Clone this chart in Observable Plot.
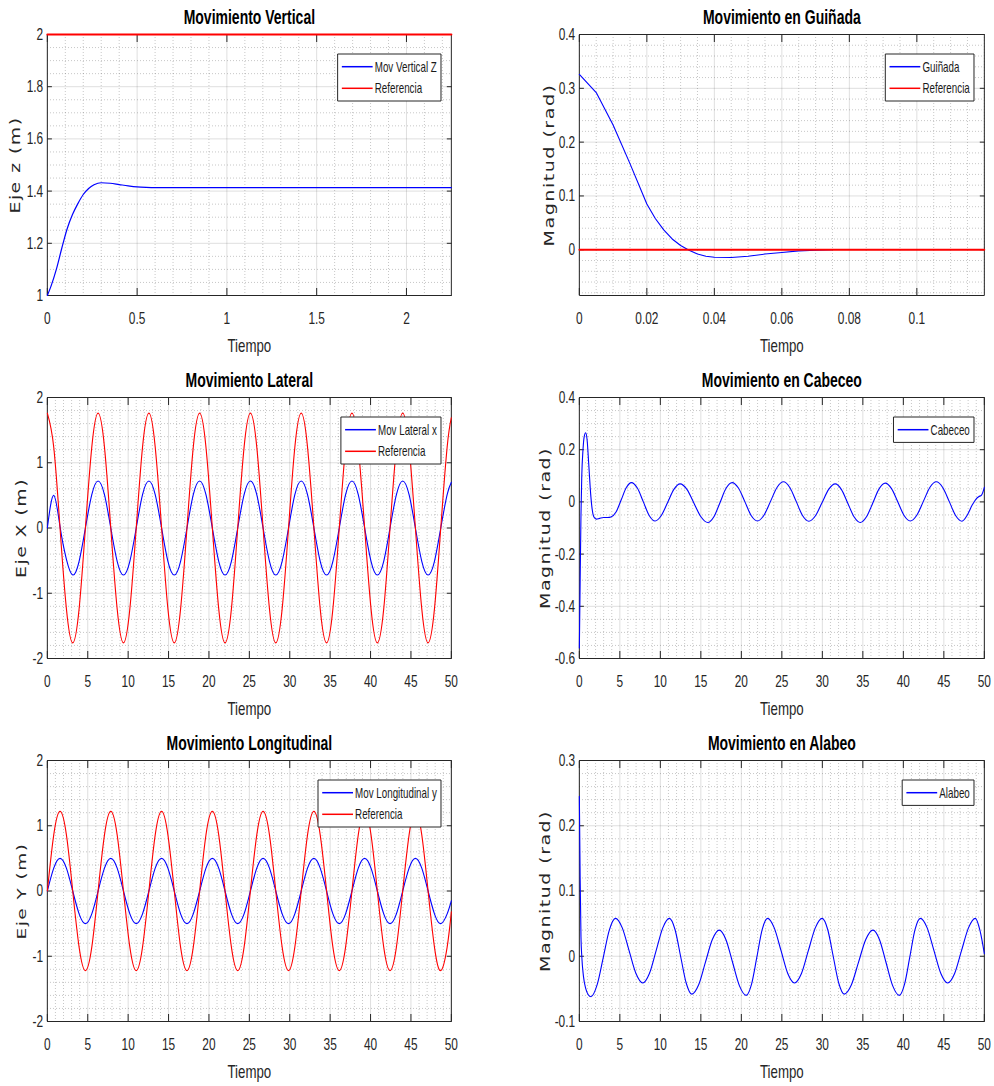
<!DOCTYPE html>
<html>
<head>
<meta charset="utf-8">
<script src="https://cdn.jsdelivr.net/npm/d3@7"></script>
<script src="https://cdn.jsdelivr.net/npm/@observablehq/plot@0.6"></script>
<style>
html, body { margin: 0; padding: 0; background: #fff; }
#fig { position: relative; width: 994px; height: 1086px; overflow: hidden; background: #fff; }
.panel { position: absolute; width: 497px; height: 362px; }
.panel svg { width: 497px !important; height: 362px !important; max-width: none !important; display: block; }
.panel svg path, .panel svg line, .panel svg rect { vector-effect: non-scaling-stroke; }
.ylab { position: absolute; white-space: nowrap; font-family: 'DejaVu Sans', sans-serif; font-size: 19px; letter-spacing: 1.5px; line-height: 1; color: #262626; transform: translate(-50%, -50%) rotate(-90deg) scaleY(0.7); }
</style>
</head>
<body>
<div id="fig"></div>
<script>
// ---------------- DATA ----------------
// Movimiento Vertical
const vertT = [0, 0.02, 0.05, 0.08, 0.11, 0.14, 0.17, 0.2, 0.23, 0.26, 0.3, 0.35, 0.4, 0.45, 0.5, 0.55, 0.6, 0.7, 1.0, 1.5, 2.25];
const vertZ = [1, 1.035, 1.1, 1.18, 1.255, 1.31, 1.352, 1.387, 1.41, 1.424, 1.432, 1.43, 1.425, 1.42, 1.416, 1.414, 1.413, 1.413, 1.413, 1.413, 1.413];
const vertRefT = [0, 2.25];
const vertRef = [2, 2];

// Movimiento en Guiñada
const yawT = [0, 0.005, 0.01, 0.015, 0.02, 0.0225, 0.025, 0.0275, 0.03, 0.0325, 0.035, 0.0375, 0.04, 0.045, 0.05, 0.055, 0.06, 0.065, 0.07, 0.075];
const yawV = [0.326, 0.292, 0.232, 0.16, 0.085, 0.058, 0.037, 0.02, 0.008, -0.001, -0.008, -0.012, -0.014, -0.0145, -0.012, -0.008, -0.005, -0.002, -0.001, 0];
const yawRefT = [0, 0.12];
const yawRef = [0, 0];

// Shared time samples for the lateral / longitudinal panels
const tOsc = [0, 0.79, 1.57, 2.36, 3.14, 3.93, 4.71, 5.50,
  6.28, 7.07, 7.85, 8.64, 9.42, 10.21, 11.00, 11.78,
  12.57, 13.35, 14.14, 14.92, 15.71, 16.49, 17.28, 18.06,
  18.85, 19.63, 20.42, 21.21, 21.99, 22.78, 23.56, 24.35,
  25.13, 25.92, 26.70, 27.49, 28.27, 29.06, 29.85, 30.63,
  31.42, 32.20, 32.99, 33.77, 34.56, 35.34, 36.13, 36.91,
  37.70, 38.48, 39.27, 40.06, 40.84, 41.63, 42.41, 43.20,
  43.98, 44.77, 45.55, 46.34, 47.12, 47.91, 48.69, 49.48, 50];

// Movimiento Lateral
const latRef = [1.76, 1.24, 0, -1.24, -1.76, -1.24, 0, 1.24,
  1.76, 1.24, 0, -1.24, -1.76, -1.24, 0, 1.24,
  1.76, 1.24, 0, -1.24, -1.76, -1.24, 0, 1.24,
  1.76, 1.24, 0, -1.24, -1.76, -1.24, 0, 1.24,
  1.76, 1.24, 0, -1.24, -1.76, -1.24, 0, 1.24,
  1.76, 1.24, 0, -1.24, -1.76, -1.24, 0, 1.24,
  1.76, 1.24, 0, -1.24, -1.76, -1.24, 0, 1.24,
  1.76, 1.24, 0, -1.24, -1.76, -1.24, 0, 1.24, 1.69];
const latX = [0, 0.50, 0.02, -0.48, -0.72, -0.51, 0, 0.51,
  0.72, 0.51, 0, -0.51, -0.72, -0.51, 0, 0.51,
  0.72, 0.51, 0, -0.51, -0.72, -0.51, 0, 0.51,
  0.72, 0.51, 0, -0.51, -0.72, -0.51, 0, 0.51,
  0.72, 0.51, 0, -0.51, -0.72, -0.51, 0, 0.51,
  0.72, 0.51, 0, -0.51, -0.72, -0.51, 0, 0.51,
  0.72, 0.51, 0, -0.51, -0.72, -0.51, 0, 0.51,
  0.72, 0.51, 0, -0.51, -0.72, -0.51, 0, 0.51, 0.70];

// Movimiento Longitudinal
const lonRef = [0, 0.86, 1.22, 0.86, 0, -0.86, -1.22, -0.86,
  0, 0.86, 1.22, 0.86, 0, -0.86, -1.22, -0.86,
  0, 0.86, 1.22, 0.86, 0, -0.86, -1.22, -0.86,
  0, 0.86, 1.22, 0.86, 0, -0.86, -1.22, -0.86,
  0, 0.86, 1.22, 0.86, 0, -0.86, -1.22, -0.86,
  0, 0.86, 1.22, 0.86, 0, -0.86, -1.22, -0.86,
  0, 0.86, 1.22, 0.86, 0, -0.86, -1.22, -0.86,
  0, 0.86, 1.22, 0.86, 0, -0.86, -1.22, -0.86, -0.32];
const lonY = [0, 0.35, 0.50, 0.35, 0, -0.35, -0.50, -0.35,
  0, 0.35, 0.50, 0.35, 0, -0.35, -0.50, -0.35,
  0, 0.35, 0.50, 0.35, 0, -0.35, -0.50, -0.35,
  0, 0.35, 0.50, 0.35, 0, -0.35, -0.50, -0.35,
  0, 0.35, 0.50, 0.35, 0, -0.35, -0.50, -0.35,
  0, 0.35, 0.50, 0.35, 0, -0.35, -0.50, -0.35,
  0, 0.35, 0.50, 0.35, 0, -0.35, -0.50, -0.35,
  0, 0.35, 0.50, 0.35, 0, -0.35, -0.50, -0.35, -0.15];

// Movimiento en Cabeceo
const cabT = [0, 0.1, 0.2, 0.3, 0.45, 0.6, 0.78, 0.95, 1.15, 1.35,
  1.55, 1.8, 2.1, 2.5, 3.0, 3.5, 3.9, 4.53, 5.17, 5.80,
  6.43, 7.16, 7.89, 8.62, 9.35, 10.12, 10.90, 11.67, 12.44, 13.30,
  14.15, 15.01, 15.86, 16.61, 17.36, 18.11, 18.86, 19.64, 20.43, 21.21,
  21.99, 22.79, 23.60, 24.40, 25.20, 25.98, 26.77, 27.55, 28.33, 29.15,
  29.96, 30.78, 31.59, 32.36, 33.14, 33.91, 34.68, 35.45, 36.23, 37.00,
  37.77, 38.54, 39.32, 40.09, 40.86, 41.66, 42.47, 43.27, 44.07, 44.86,
  45.66, 46.45, 47.24, 47.9, 48.5, 49.0, 49.3, 49.65, 50];
const cabV = [-0.56, -0.30, -0.05, 0.10, 0.20, 0.25, 0.265, 0.24, 0.15, 0.05,
  -0.02, -0.058, -0.066, -0.063, -0.060, -0.060, -0.058, -0.039, 0.008, 0.055,
  0.074, 0.053, 0.001, -0.052, -0.073, -0.052, -0.002, 0.048, 0.069, 0.047,
  -0.005, -0.057, -0.079, -0.057, -0.003, 0.052, 0.074, 0.053, 0.001, -0.052,
  -0.073, -0.051, 0.002, 0.055, 0.077, 0.055, 0.002, -0.052, -0.074, -0.053,
  -0.003, 0.048, 0.069, 0.047, -0.005, -0.057, -0.079, -0.057, -0.004, 0.050,
  0.072, 0.051, 0.000, -0.052, -0.073, -0.051, 0.002, 0.055, 0.077, 0.055,
  0.002, -0.052, -0.074, -0.050, -0.012, 0.012, 0.020, 0.026, 0.056];

// Movimiento en Alabeo
const alaT = [0, 0.1, 0.2, 0.3, 0.5, 0.8, 1.1, 1.44, 2.19, 2.95,
  3.70, 4.45, 5.30, 6.14, 6.99, 7.83, 8.65, 9.48, 10.30, 11.12,
  11.81, 12.50, 13.19, 13.88, 14.73, 15.57, 16.42, 17.26, 18.10, 18.93,
  19.77, 20.60, 21.26, 21.92, 22.57, 23.23, 24.06, 24.90, 25.73, 26.56,
  27.42, 28.27, 29.13, 29.98, 30.66, 31.34, 32.02, 32.70, 33.59, 34.47,
  35.36, 36.24, 37.06, 37.87, 38.69, 39.50, 40.15, 40.80, 41.44, 42.09,
  42.94, 43.78, 44.63, 45.47, 46.33, 47.18, 48.04, 48.89, 49.45, 50];
const alaV = [0.245, 0.12, 0.03, 0.0, -0.03, -0.05, -0.059, -0.062, -0.044, -0.002,
  0.040, 0.058, 0.0435, 0.0085, -0.0265, -0.041, -0.0265, 0.0085, 0.0435, 0.058,
  0.041, 0, -0.041, -0.058, -0.0436, -0.009, 0.0256, 0.040, 0.0254, -0.01,
  -0.0454, -0.060, -0.0427, -0.001, 0.0407, 0.058, 0.0435, 0.0085, -0.0265, -0.041,
  -0.0265, 0.0085, 0.0435, 0.058, 0.041, 0, -0.041, -0.058, -0.0436, -0.009,
  0.0256, 0.040, 0.0254, -0.01, -0.0454, -0.060, -0.0427, -0.001, 0.0407, 0.058,
  0.0435, 0.0085, -0.0265, -0.041, -0.0265, 0.0085, 0.0435, 0.058, 0.040, 0.004];

// Ticks
const ticksVertX = [0, 0.5, 1, 1.5, 2];
const ticksVertY = [1, 1.2, 1.4, 1.6, 1.8, 2];
const ticksYawX = [0, 0.02, 0.04, 0.06, 0.08, 0.1];
const ticksYawY = [0, 0.1, 0.2, 0.3, 0.4];
const ticks50 = [0, 5, 10, 15, 20, 25, 30, 35, 40, 45, 50];
const ticksPosY = [-2, -1, 0, 1, 2];
const ticksCabY = [-0.6, -0.4, -0.2, 0, 0.2, 0.4];
const ticksAlaY = [-0.1, 0, 0.1, 0.2, 0.3];

// Text
const titles = ["Movimiento Vertical", "Movimiento en Guiñada", "Movimiento Lateral", "Movimiento en Cabeceo", "Movimiento Longitudinal", "Movimiento en Alabeo"];
const yLabels = ["Eje z (m)", "Magnitud (rad)", "Eje X (m)", "Magnitud (rad)", "Eje Y (m)", "Magnitud (rad)"];
const xLabel = "Tiempo";

// ---------------- DRAWING ----------------
const fig = document.getElementById("fig");
const SX = 0.7, PW = 497, PH = 362, IW = PW / SX;
const FONT = "'Liberation Sans', Arial, Helvetica, sans-serif";
const AX = "#262626";
const BLUE = "#0000ff", RED = "#ff0000";

function minorTicks(domain, step, major) {
  const out = [];
  const k0 = Math.ceil(domain[0] / step - 1e-9), k1 = Math.floor(domain[1] / step + 1e-9);
  for (let k = k0; k <= k1; k++) {
    const v = +(k * step).toFixed(10);
    if (!major.some(m => Math.abs(m - v) < step * 1e-3)) out.push(v);
  }
  return out;
}

function drawPanel(cfg) {
  const fl = cfg.col === 0 ? 47 : 82;
  const fr = cfg.col === 0 ? 451 : 487;
  const mL = fl / SX, mR = (PW - fr) / SX, mT = 34, mB = 67;
  const fmt = d => String(d);
  const marks = [
    Plot.gridX(minorTicks(cfg.xDomain, cfg.xMinor, cfg.xTicks), {stroke: AX, strokeOpacity: 0.26, strokeDasharray: "1,2"}),
    Plot.gridY(minorTicks(cfg.yDomain, cfg.yMinor, cfg.yTicks), {stroke: AX, strokeOpacity: 0.26, strokeDasharray: "1,2"}),
    Plot.gridX(cfg.xTicks, {stroke: AX, strokeOpacity: 0.15}),
    Plot.gridY(cfg.yTicks, {stroke: AX, strokeOpacity: 0.15}),
    Plot.frame({stroke: AX, strokeWidth: 1}),
    Plot.axisX(cfg.xTicks, {anchor: "bottom", tickSize: -7, fill: "none", stroke: AX, label: null}),
    Plot.axisX(cfg.xTicks, {anchor: "top", tickSize: -7, fill: "none", stroke: AX, label: null}),
    Plot.axisY(cfg.yTicks, {anchor: "left", tickSize: -7, fill: "none", stroke: AX, label: null}),
    Plot.axisY(cfg.yTicks, {anchor: "right", tickSize: -7, fill: "none", stroke: AX, label: null}),
    ...cfg.series.map(s => Plot.line(s.t.map((t, i) => ({t, v: s.v[i]})), {
      x: "t", y: "v", stroke: s.color, strokeWidth: s.width, curve: s.curve || "linear"
    })),
    Plot.axisX(cfg.xTicks, {anchor: "bottom", tickSize: 0, tickPadding: 16, label: null, tickFormat: fmt, fontSize: 17, fill: AX}),
    Plot.axisY(cfg.yTicks, {anchor: "left", tickSize: 0, tickPadding: 6, label: null, tickFormat: fmt, fontSize: 17, fill: AX}),
    Plot.text([cfg.title], {text: d => d, frameAnchor: "top", dy: -11, lineAnchor: "bottom", fontWeight: "bold", fontSize: 20, fill: "#000"}),
    Plot.text([xLabel], {text: d => d, frameAnchor: "bottom", dy: 56, lineAnchor: "bottom", fontSize: 19, fill: AX})
  ];
  const chart = Plot.plot({
    width: IW, height: PH,
    marginLeft: mL, marginRight: mR, marginTop: mT, marginBottom: mB,
    x: {domain: cfg.xDomain},
    y: {domain: cfg.yDomain},
    style: {fontFamily: FONT, fontSize: "17px", background: "white", overflow: "visible", color: AX},
    marks
  });
  chart.setAttribute("width", PW);
  chart.setAttribute("height", PH);
  chart.setAttribute("viewBox", `0 0 ${IW} ${PH}`);
  chart.setAttribute("preserveAspectRatio", "none");
  const div = document.createElement("div");
  div.className = "panel";
  div.style.left = (cfg.col * PW) + "px";
  div.style.top = cfg.top + "px";
  div.appendChild(chart);
  fig.appendChild(div);

  // y-axis label (rotated, same horizontal squeeze as the axes), sized to the reference length
  const yl = document.createElement("div");
  yl.className = "ylab";
  yl.textContent = cfg.ylabel;
  yl.style.left = (cfg.col * PW + cfg.ylabelX) + "px";
  yl.style.top = (cfg.top + mT + (PH - mT - mB) / 2) + "px";
  fig.appendChild(yl);
  const h = yl.getBoundingClientRect().height;
  if (h > 0) {
    const f = cfg.ylabelLen / h;
    yl.style.fontSize = (19 * f) + "px";
    yl.style.letterSpacing = (1.5 * f) + "px";
  }

  // legend box (top-right, inside the axes)
  const svg = d3.select(chart);
  const frameRight = IW - mR, frameTop = mT;
  const g = svg.append("g").attr("font-family", FONT).attr("font-size", 14).attr("text-anchor", "start");
  const padL = 6, lineLen = 44, gap = 3, padR = 6, rowH = 21.6;
  const boxTop = frameTop + 20;
  const texts = cfg.legend.map((it, i) => g.append("text")
    .attr("y", boxTop + 1.9 + rowH / 2 + i * rowH).attr("dy", "0.35em")
    .attr("text-anchor", "start").attr("fill", "#1a1a1a").text(it.label));
  const tw = d3.max(texts, t => t.node().getComputedTextLength());
  const boxW = padL + lineLen + gap + tw + padR;
  const x0 = frameRight - 14.3 - boxW;
  const boxH = 3.8 + cfg.legend.length * rowH;
  g.insert("rect", ":first-child").attr("x", x0).attr("y", boxTop)
    .attr("width", boxW).attr("height", boxH).attr("fill", "white").attr("stroke", AX).attr("stroke-width", 1);
  cfg.legend.forEach((it, i) => {
    const cy = boxTop + 1.9 + rowH / 2 + i * rowH;
    g.append("line").attr("x1", x0 + padL).attr("x2", x0 + padL + lineLen)
      .attr("y1", cy).attr("y2", cy).attr("stroke", it.color).attr("stroke-width", 1.5);
    texts[i].attr("x", x0 + padL + lineLen + gap);
  });
}

const rowTop = [0, 363, 726];

drawPanel({col: 0, top: rowTop[0], title: titles[0], ylabel: yLabels[0], ylabelX: 16, ylabelLen: 97,
  xDomain: [0, 2.25], yDomain: [1, 2], xTicks: ticksVertX, yTicks: ticksVertY, xMinor: 0.1, yMinor: 0.05,
  series: [
    {t: vertT, v: vertZ, color: BLUE, width: 1.2, curve: "monotone-x"},
    {t: vertRefT, v: vertRef, color: RED, width: 2}
  ],
  legend: [{label: "Mov Vertical Z", color: BLUE}, {label: "Referencia", color: RED}]});

drawPanel({col: 1, top: rowTop[0], title: titles[1], ylabel: yLabels[1], ylabelX: 51.5, ylabelLen: 163,
  xDomain: [0, 0.12], yDomain: [-0.085, 0.4], xTicks: ticksYawX, yTicks: ticksYawY, xMinor: 0.005, yMinor: 0.02,
  series: [
    {t: yawT, v: yawV, color: BLUE, width: 1.1},
    {t: yawRefT, v: yawRef, color: RED, width: 1.8}
  ],
  legend: [{label: "Guiñada", color: BLUE}, {label: "Referencia", color: RED}]});

drawPanel({col: 0, top: rowTop[1], title: titles[2], ylabel: yLabels[2], ylabelX: 22, ylabelLen: 100,
  xDomain: [0, 50], yDomain: [-2, 2], xTicks: ticks50, yTicks: ticksPosY, xMinor: 1, yMinor: 0.2,
  series: [
    {t: tOsc, v: latX, color: BLUE, width: 1.1, curve: "natural"},
    {t: tOsc, v: latRef, color: RED, width: 1.1, curve: "natural"}
  ],
  legend: [{label: "Mov Lateral x", color: BLUE}, {label: "Referencia", color: RED}]});

drawPanel({col: 1, top: rowTop[1], title: titles[3], ylabel: yLabels[3], ylabelX: 48, ylabelLen: 162,
  xDomain: [0, 50], yDomain: [-0.6, 0.4], xTicks: ticks50, yTicks: ticksCabY, xMinor: 1, yMinor: 0.05,
  series: [
    {t: cabT, v: cabV, color: BLUE, width: 1.1, curve: "monotone-x"}
  ],
  legend: [{label: "Cabeceo", color: BLUE}]});

drawPanel({col: 0, top: rowTop[2], title: titles[4], ylabel: yLabels[4], ylabelX: 22, ylabelLen: 97,
  xDomain: [0, 50], yDomain: [-2, 2], xTicks: ticks50, yTicks: ticksPosY, xMinor: 1, yMinor: 0.2,
  series: [
    {t: tOsc, v: lonY, color: BLUE, width: 1.1, curve: "natural"},
    {t: tOsc, v: lonRef, color: RED, width: 1.1, curve: "natural"}
  ],
  legend: [{label: "Mov Longitudinal y", color: BLUE}, {label: "Referencia", color: RED}]});

drawPanel({col: 1, top: rowTop[2], title: titles[5], ylabel: yLabels[5], ylabelX: 48, ylabelLen: 162,
  xDomain: [0, 50], yDomain: [-0.1, 0.3], xTicks: ticks50, yTicks: ticksAlaY, xMinor: 1, yMinor: 0.02,
  series: [
    {t: alaT, v: alaV, color: BLUE, width: 1.1, curve: "monotone-x"}
  ],
  legend: [{label: "Alabeo", color: BLUE}]});
</script>
</body>
</html>
